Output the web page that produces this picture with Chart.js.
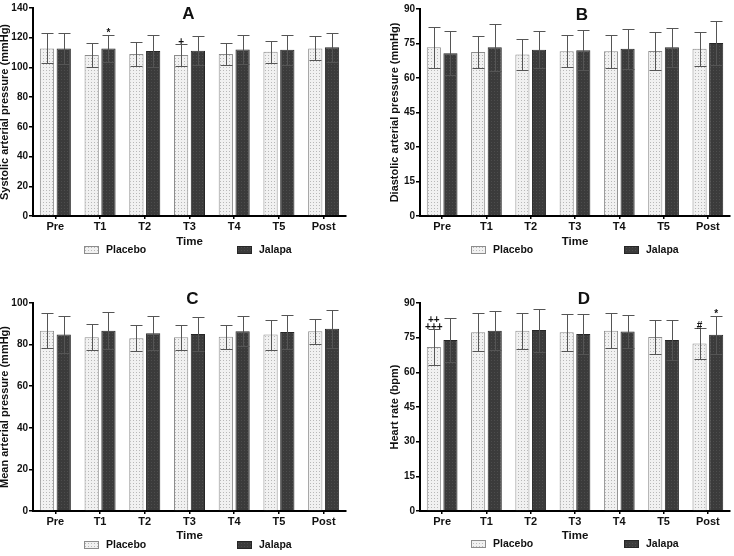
<!DOCTYPE html>
<html>
<head>
<meta charset="utf-8">
<script src="https://cdn.jsdelivr.net/npm/chart.js@4.4.1/dist/chart.umd.min.js"></script>
<style>
  body { margin: 0; background: #fff; }
  #wrap { position: relative; width: 734px; height: 556px; }
  .panel { position: absolute; width: 367px; height: 278px; }
</style>
</head>
<body>
<div id="wrap">
  <div class="panel" style="left:0;top:0"><canvas id="chartA" width="367" height="278"></canvas></div>
  <div class="panel" style="left:367px;top:0"><canvas id="chartB" width="367" height="278"></canvas></div>
  <div class="panel" style="left:0;top:278px"><canvas id="chartC" width="367" height="278"></canvas></div>
  <div class="panel" style="left:367px;top:278px"><canvas id="chartD" width="367" height="278"></canvas></div>
</div>
<script>
const categories = ['Pre', 'T1', 'T2', 'T3', 'T4', 'T5', 'Post'];
const seriesNames = ['Placebo', 'Jalapa'];

// A - systolic
const sbpPlacebo = [112.8, 108.3, 109.0, 108.3, 109.0, 110.6, 112.8];
const sbpPlaceboSd = [10.1, 8.3, 7.9, 7.2, 7.2, 7.4, 8.1];
const sbpJalapa = [112.8, 112.8, 111.0, 111.2, 112.1, 111.9, 113.5];
const sbpJalapaSd = [10.3, 9.2, 10.8, 9.9, 9.5, 10.1, 9.6];
const sbpTicks = [0, 20, 40, 60, 80, 100, 120, 140];
const sbpMarks = [{ series: 1, index: 1, text: ['*'] }, { series: 0, index: 3, text: ['+'] }];

// B - diastolic
const dbpPlacebo = [73.4, 71.3, 70.2, 71.6, 71.6, 71.7, 72.7];
const dbpPlaceboSd = [8.9, 6.9, 6.6, 6.9, 7.1, 8.3, 7.4];
const dbpJalapa = [70.8, 73.4, 72.3, 72.1, 72.7, 73.4, 75.2];
const dbpJalapaSd = [9.5, 10.2, 8.1, 8.6, 8.7, 8.5, 9.7];
const dbpTicks = [0, 15, 30, 45, 60, 75, 90];

// C - mean arterial
const mapPlacebo = [86.7, 83.5, 83.1, 83.5, 83.8, 84.8, 86.4];
const mapPlaceboSd = [8.4, 6.2, 6.4, 6.1, 5.8, 7.2, 6.0];
const mapJalapa = [84.8, 86.7, 85.4, 85.1, 86.4, 86.0, 87.6];
const mapJalapaSd = [8.8, 8.8, 8.2, 8.0, 7.3, 8.3, 9.2];
const mapTicks = [0, 20, 40, 60, 80, 100];

// D - heart rate
const hrPlacebo = [71.0, 77.3, 78.0, 77.3, 78.0, 75.3, 72.5];
const hrPlaceboSd = [7.8, 8.2, 7.8, 8.1, 7.5, 7.4, 6.8];
const hrJalapa = [74.0, 78.0, 78.3, 76.6, 77.7, 74.0, 76.3];
const hrJalapaSd = [9.4, 8.4, 9.3, 8.5, 7.1, 8.5, 8.2];
const hrTicks = [0, 15, 30, 45, 60, 75, 90];
const hrMarks = [
  { series: 0, index: 0, text: ['++', '+++'] },
  { series: 0, index: 6, text: ['#'] },
  { series: 1, index: 6, text: ['*'] }
];

const FONT = "'Liberation Sans', Arial, sans-serif";

function dotPattern(bg, dot) {
  const c = document.createElement('canvas');
  c.width = 3; c.height = 3;
  const g = c.getContext('2d');
  g.fillStyle = bg; g.fillRect(0, 0, 3, 3);
  g.fillStyle = dot; g.fillRect(1, 1, 1, 1);
  return g.createPattern(c, 'repeat');
}
const placeboFill = dotPattern('#f1f1f1', '#b8b8b8');
const jalapaFill = dotPattern('#3b3b3b', '#4d4d4d');

// error bars + significance marks
const errorBars = {
  id: 'errorBars',
  afterDatasetsDraw(chart, args, opts) {
    const ctx = chart.ctx, y = chart.scales.y;
    ctx.save();
    ctx.strokeStyle = '#555';
    ctx.lineWidth = 1;
    chart.data.datasets.forEach((ds, i) => {
      chart.getDatasetMeta(i).data.forEach((bar, j) => {
        const v = ds.data[j], e = ds.errors[j];
        const t = Math.round(y.getPixelForValue(v + e)) + 0.5;
        const b = Math.round(y.getPixelForValue(v - e)) + 0.5;
        const x = Math.round(bar.x) + 0.5;
        ctx.beginPath();
        ctx.moveTo(x, t); ctx.lineTo(x, b);
        ctx.moveTo(x - 6, t); ctx.lineTo(x + 6, t);
        ctx.moveTo(x - 6, b); ctx.lineTo(x + 6, b);
        ctx.stroke();
      });
    });
    ctx.fillStyle = '#111';
    ctx.font = 'bold 10px ' + FONT;
    ctx.textAlign = 'center';
    ctx.textBaseline = 'alphabetic';
    (opts.marks || []).forEach(m => {
      const ds = chart.data.datasets[m.series];
      const bar = chart.getDatasetMeta(m.series).data[m.index];
      let yy = y.getPixelForValue(ds.data[m.index] + ds.errors[m.index]) + 1;
      for (let k = m.text.length - 1; k >= 0; k--) {
        ctx.fillText(m.text[k], bar.x, yy);
        yy -= 6.5;
      }
    });
    ctx.restore();
  }
};

// panel letter and legend
const panelDecor = {
  id: 'panelDecor',
  afterDraw(chart, args, opts) {
    const ctx = chart.ctx, area = chart.chartArea;
    ctx.save();
    ctx.fillStyle = '#111';
    ctx.font = 'bold 17px ' + FONT;
    ctx.textAlign = 'center';
    ctx.textBaseline = 'middle';
    ctx.fillText(opts.letter, (area.left + area.right) / 2 + opts.letterDx, opts.letterY);

    ctx.font = 'bold 10.5px ' + FONT;
    ctx.textAlign = 'left';
    const offs = [51, 204];
    chart.data.datasets.forEach((ds, i) => {
      const bx = area.left + offs[i], by = opts.legendY - 4;
      ctx.fillStyle = ds.backgroundColor;
      ctx.fillRect(bx, by, 15, 8);
      ctx.strokeStyle = ds.borderColor;
      ctx.lineWidth = 1;
      ctx.strokeRect(bx + 0.5, by + 0.5, 14, 7);
      ctx.fillStyle = '#111';
      ctx.fillText(ds.label, bx + 22, opts.legendY + 0.5);
    });
    ctx.restore();
  }
};

function makePanel(id, cfg) {
  new Chart(document.getElementById(id), {
    type: 'bar',
    data: {
      labels: categories,
      datasets: [
        {
          label: seriesNames[0],
          data: cfg.placebo,
          errors: cfg.placeboSd,
          backgroundColor: placeboFill,
          borderColor: '#8c8c8c',
          borderWidth: 1
        },
        {
          label: seriesNames[1],
          data: cfg.jalapa,
          errors: cfg.jalapaSd,
          backgroundColor: jalapaFill,
          borderColor: '#262626',
          borderWidth: 1
        }
      ]
    },
    plugins: [errorBars, panelDecor],
    options: {
      responsive: false,
      animation: false,
      devicePixelRatio: 1,
      categoryPercentage: 0.75,
      barPercentage: 0.85,
      layout: {
        padding: { left: 0, top: cfg.top, right: cfg.right, bottom: 0 }
      },
      plugins: {
        legend: { display: false },
        tooltip: { enabled: false },
        errorBars: { marks: cfg.marks },
        panelDecor: {
          letter: cfg.letter,
          letterY: cfg.letterY,
          letterDx: cfg.letterDx,
          legendY: cfg.legendY
        }
      },
      scales: {
        x: {
          offset: true,
          grid: { offset: false, drawOnChartArea: false, drawTicks: true, tickLength: 3, color: '#000', lineWidth: 1.5 },
          border: { display: true, color: '#000', width: 2 },
          ticks: {
            color: '#111', padding: 1, maxRotation: 0, autoSkip: false,
            font: { family: FONT, size: 11, weight: 'bold' }
          },
          title: {
            display: true, text: 'Time', color: '#111',
            font: { family: FONT, size: 11.5, weight: 'bold' },
            padding: { top: 0, bottom: cfg.timePad }
          },
          afterFit: s => { s.height = cfg.xHeight; }
        },
        y: {
          min: cfg.ticks[0],
          max: cfg.ticks[cfg.ticks.length - 1],
          afterBuildTicks: s => { s.ticks = cfg.ticks.map(v => ({ value: v })); },
          grid: { drawOnChartArea: false, drawTicks: true, tickLength: 4, color: '#000', lineWidth: 1.5 },
          border: { display: true, color: '#000', width: 2 },
          ticks: {
            color: '#111', padding: 1,
            font: { family: FONT, size: 10, weight: 'bold' }
          },
          title: {
            display: true, text: cfg.yTitle, color: '#111',
            font: { family: FONT, size: 11, weight: 'bold' },
            padding: { top: cfg.yTitlePad, bottom: 0 }
          },
          afterFit: s => { s.width = cfg.yWidth; }
        }
      }
    }
  });
}

makePanel('chartA', {
  letter: 'A', letterY: 14, letterDx: -1, legendY: 250,
  placebo: sbpPlacebo, placeboSd: sbpPlaceboSd, jalapa: sbpJalapa, jalapaSd: sbpJalapaSd,
  ticks: sbpTicks, marks: sbpMarks,
  yTitle: 'Systolic arterial pressure (mmHg)',
  top: 8, right: 21, xHeight: 62, timePad: 29, yWidth: 33, yTitlePad: -2
});
makePanel('chartB', {
  letter: 'B', letterY: 15, letterDx: 7, legendY: 250,
  placebo: dbpPlacebo, placeboSd: dbpPlaceboSd, jalapa: dbpJalapa, jalapaSd: dbpJalapaSd,
  ticks: dbpTicks, marks: [],
  yTitle: 'Diastolic arterial pressure (mmHg)',
  top: 9, right: 4, xHeight: 62, timePad: 29, yWidth: 53, yTitlePad: 21
});
makePanel('chartC', {
  letter: 'C', letterY: 21, letterDx: 3, legendY: 267,
  placebo: mapPlacebo, placeboSd: mapPlaceboSd, jalapa: mapJalapa, jalapaSd: mapJalapaSd,
  ticks: mapTicks, marks: [],
  yTitle: 'Mean arterial pressure (mmHg)',
  top: 25, right: 21, xHeight: 45, timePad: 13, yWidth: 33, yTitlePad: -2
});
makePanel('chartD', {
  letter: 'D', letterY: 21, letterDx: 9, legendY: 266,
  placebo: hrPlacebo, placeboSd: hrPlaceboSd, jalapa: hrJalapa, jalapaSd: hrJalapaSd,
  ticks: hrTicks, marks: hrMarks,
  yTitle: 'Heart rate (bpm)',
  top: 25, right: 4, xHeight: 45, timePad: 13, yWidth: 53, yTitlePad: 21
});
</script>
</body>
</html>
